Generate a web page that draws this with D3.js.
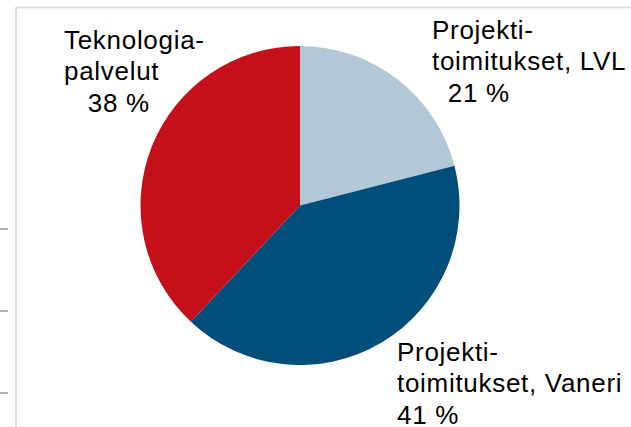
<!DOCTYPE html>
<html>
<head>
<meta charset="utf-8">
<script src="https://cdn.jsdelivr.net/npm/d3@7"></script>
<style>
  body { margin: 0; background: #fff; }
  svg { display: block; }
  text { font-family: "Liberation Sans", Arial, sans-serif; fill: #000; }
</style>
</head>
<body>
<div id="chart"></div>
<script>
// Segments, clockwise from 12 o'clock
const segments = ["Projektitoimitukset, LVL", "Projektitoimitukset, Vaneri", "Teknologiapalvelut"];
const shares = [21, 41, 38];
const labelLines = [
  ["Projekti-", "toimitukset, LVL", "  21 %"],
  ["Projekti-", "toimitukset, Vaneri", "41 %"],
  ["Teknologia-", "palvelut", "   38 %"]
];
const colors = ["#b3c8d7", "#024e7a", "#c50f1b"];

const width = 631, height = 427;
const cx = 300, cy = 205.5, radius = 159.5;

const svg = d3.select("#chart")
  .append("svg")
  .attr("width", width)
  .attr("height", height);

// background frame left over from the slide
svg.append("line")
  .attr("x1", 16).attr("x2", width)
  .attr("y1", 7.5).attr("y2", 7.5)
  .attr("stroke", "#dedede").attr("stroke-width", 2);
svg.append("line")
  .attr("x1", 16).attr("x2", 16)
  .attr("y1", 7).attr("y2", height)
  .attr("stroke", "#dedede").attr("stroke-width", 2);
[229, 311, 393].forEach(y => {
  svg.append("line")
    .attr("x1", 0).attr("x2", 8)
    .attr("y1", y).attr("y2", y)
    .attr("stroke", "#b0b0b0").attr("stroke-width", 2);
});

const pie = d3.pie().sort(null).value(d => d)(shares);
const arc = d3.arc().innerRadius(0).outerRadius(radius);

const g = svg.append("g")
  .attr("transform", `translate(${cx},${cy})`);

g.selectAll("path")
  .data(pie)
  .join("path")
  .attr("d", arc)
  .attr("fill", (d, i) => colors[i]);

// label blocks, offsets from pie centre
const labelPos = [
  { dx: 132, dy: -167 },
  { dx: 97, dy: 155 },
  { dx: -236, dy: -157 }
];

const lineHeight = 31.5;
labelLines.forEach((lines, i) => {
  const t = svg.append("text")
    .attr("x", cx + labelPos[i].dx)
    .attr("y", cy + labelPos[i].dy)
    .style("font-size", "26px")
    .style("letter-spacing", "0.7px")
    .style("white-space", "pre")
    .attr("xml:space", "preserve");
  lines.forEach((ln, j) => {
    t.append("tspan")
      .attr("x", cx + labelPos[i].dx)
      .attr("y", cy + labelPos[i].dy + j * lineHeight)
      .text(ln);
  });
});
</script>
</body>
</html>
